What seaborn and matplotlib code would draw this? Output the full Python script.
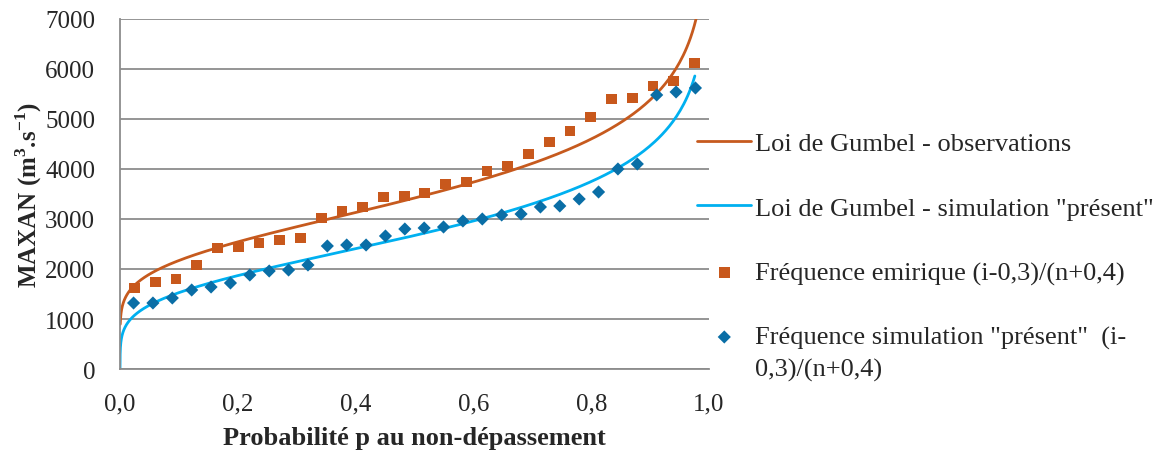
import numpy as np
import pandas as pd
import matplotlib
matplotlib.use("Agg")
import matplotlib.pyplot as plt
from matplotlib.ticker import FuncFormatter
import seaborn as sns

# ==============================
# Data
# ==============================
# Observations : plotting positions (i-0,3)/(n+0,4), n = 28
p_obs = [0.0246, 0.0599, 0.0951, 0.1303, 0.1655, 0.2007, 0.2359, 0.2711,
         0.3063, 0.3415, 0.3768, 0.4120, 0.4472, 0.4824, 0.5176, 0.5528,
         0.5880, 0.6232, 0.6585, 0.6937, 0.7289, 0.7641, 0.7993, 0.8345,
         0.8697, 0.9049, 0.9401, 0.9754]
q_obs = [1620, 1740, 1800, 2080, 2420, 2440, 2520, 2580, 2620, 3020, 3160,
         3240, 3440, 3460, 3520, 3700, 3740, 3960, 4060, 4300, 4540, 4760,
         5040, 5400, 5420, 5660, 5760, 6120]

# Simulation "present" : n = 30
p_sim = [0.0230, 0.0559, 0.0888, 0.1217, 0.1546, 0.1875, 0.2204, 0.2533,
         0.2862, 0.3191, 0.3520, 0.3849, 0.4178, 0.4507, 0.4836, 0.5164,
         0.5493, 0.5822, 0.6151, 0.6480, 0.6809, 0.7138, 0.7467, 0.7796,
         0.8125, 0.8454, 0.8783, 0.9112, 0.9441, 0.9770]
q_sim = [1320, 1320, 1420, 1580, 1640, 1720, 1880, 1960, 1980, 2080, 2460,
         2480, 2480, 2660, 2800, 2820, 2840, 2960, 3000, 3080, 3100, 3240,
         3260, 3400, 3540, 4000, 4100, 5480, 5540, 5620]

# Gumbel laws (mu, beta) estimated from the curves, and p range drawn
gumbel_obs = (3038, 1041)
gumbel_sim = (2321, 952)
p_range_obs = (4.0e-4, 0.978)
p_range_sim = (1.1e-5, 0.976)

labels = ["Loi de Gumbel - observations",
          "Loi de Gumbel - simulation \"présent\"",
          "Fréquence emirique (i-0,3)/(n+0,4)",
          "Fréquence simulation \"présent\"  (i-"]
label_tail = "0,3)/(n+0,4)"


def gumbel_curve(params, p_range):
    mu, beta = params
    p = np.unique(np.concatenate([np.geomspace(p_range[0], 0.05, 200),
                                  np.linspace(0.05, p_range[1], 300)]))
    return pd.DataFrame({"p": p, "q": mu - beta * np.log(-np.log(p))})


def main():
    sns.set_style("white")
    plt.rcParams["font.family"] = ["Liberation Serif", "DejaVu Serif"]
    plt.rcParams["mathtext.fontset"] = "custom"
    plt.rcParams["mathtext.rm"] = "Liberation Serif"
    plt.rcParams["mathtext.bf"] = "Liberation Serif:bold"

    fs = 19
    fig = plt.figure(figsize=(11.64, 4.52), dpi=100)
    ax = fig.add_axes([0.1031, 0.1814, 0.5060, 0.7744])

    c_obs_line = "#C65A1E"
    c_sim_line = "#00B0F0"
    c_obs_pt = "#C8581C"
    c_sim_pt = "#0A6EA6"

    sns.lineplot(data=gumbel_curve(gumbel_obs, p_range_obs), x="p", y="q",
                 ax=ax, color=c_obs_line, lw=2, label=labels[0], sort=False)
    sns.lineplot(data=gumbel_curve(gumbel_sim, p_range_sim), x="p", y="q",
                 ax=ax, color=c_sim_line, lw=2, label=labels[1], sort=False)
    sns.scatterplot(x=p_obs, y=q_obs, ax=ax, marker="s", s=60,
                    color=c_obs_pt, edgecolor="none", label=labels[2], zorder=3)
    sns.scatterplot(x=p_sim, y=q_sim, ax=ax, marker="D", s=45,
                    color=c_sim_pt, edgecolor="none", label=labels[3], zorder=3)

    ax.set_xlim(0, 1)
    ax.set_ylim(0, 7000)
    ax.set_xticks(np.arange(0, 1.01, 0.2))
    ax.set_yticks(np.arange(0, 7001, 1000))
    ax.xaxis.set_major_formatter(FuncFormatter(lambda v, _: f"{v:.1f}".replace(".", ",")))

    ax.grid(axis="y", color="#8C8C8C", lw=1.3)
    ax.set_axisbelow(True)
    for side in ["top", "right"]:
        ax.spines[side].set_visible(False)
    for side in ["left", "bottom"]:
        ax.spines[side].set_color("#8C8C8C")
        ax.spines[side].set_linewidth(1.3)
    ax.tick_params(axis="both", direction="out", length=8, width=1.3,
                   color="#8C8C8C", labelsize=18)
    ax.tick_params(axis="x", pad=9)
    ax.tick_params(axis="y", pad=10)

    ax.set_xlabel("Probabilité p au non-dépassement", fontsize=fs,
                  fontweight="bold", labelpad=8)
    ax.set_ylabel(r"MAXAN (m$^{\mathbf{3}}$.s$^{\mathbf{-1}}$)", fontsize=18,
                  fontweight="bold", labelpad=1)

    leg = ax.legend(loc="upper left", bbox_to_anchor=(0.599, 0.706),
                    bbox_transform=fig.transFigure, frameon=False,
                    fontsize=fs, borderpad=0, borderaxespad=0,
                    handlelength=2.05, handletextpad=0.15, labelspacing=1.55)

    # second line of the last legend entry, below its first line
    fig.canvas.draw()
    bb = leg.get_texts()[3].get_window_extent()
    x0, y0 = fig.transFigure.inverted().transform((bb.x0, bb.y0 - 32))
    fig.text(x0, y0, label_tail, fontsize=fs, ha="left", va="bottom")

    fig.savefig("out.png", dpi=100)


if __name__ == "__main__":
    main()
